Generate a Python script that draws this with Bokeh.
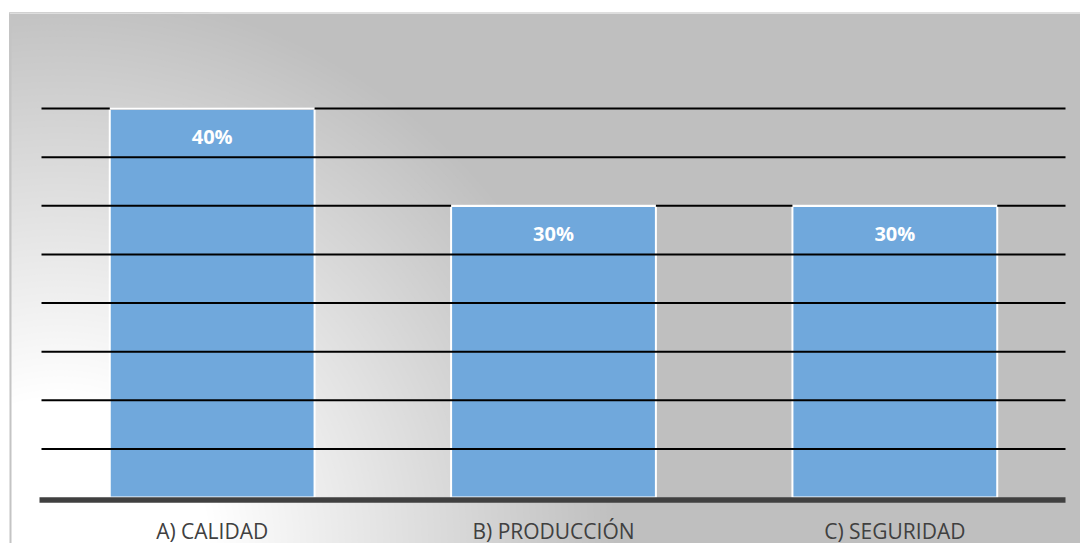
from bokeh.plotting import figure
from bokeh.models import Range1d
from bokeh.core.properties import value
from bokeh.embed import file_html
from bokeh.resources import INLINE

# ---- data ----
categories = ["A) CALIDAD", "B) PRODUCCIÓN", "C) SEGURIDAD"]
shares = [0.40, 0.30, 0.30]
share_labels = ["40%", "30%", "30%"]
grid_levels = [0.05, 0.10, 0.15, 0.20, 0.25, 0.30, 0.35, 0.40]

# ---- layout (pixels) ----
W, H = 1080, 543
left_pad, top_pad = 9, 12
frame_w, frame_h = W - left_pad, H - top_pad
px_per_cat = 1024 / 3.0
cat0_off = 32.0              # px from frame left to first category edge
px_per_unit = 972.5
zero_off = 46.0              # px from frame bottom to value 0

n = len(categories)
x_start = -cat0_off / px_per_cat
x_end = x_start + frame_w / px_per_cat
y_start = -zero_off / px_per_unit
y_end = y_start + frame_h / px_per_unit

p = figure(width=W, height=H, x_range=Range1d(x_start, x_end), y_range=Range1d(y_start, y_end),
           x_axis_type=None, y_axis_type=None, output_backend="svg", toolbar_location=None,
           min_border_left=left_pad, min_border_right=0, min_border_top=top_pad, min_border_bottom=0)
p.background_fill_color = "#bfbfbf"
p.border_fill_color = "white"
p.outline_line_color = None

# ---- radial gradient background (decoration) ----
gx = (60 - 41) / px_per_cat
gy = (497 - 545) / px_per_unit
r0, r1 = 150.0, 560.0
levels = list(range(192, 256))
radii, colors = [], []
for g in levels:
    t = (255 - g) / 64.0
    radii.append(r0 + t * (r1 - r0))
    colors.append("#%02x%02x%02x" % (g, g, g))
p.circle(x=[gx] * len(levels), y=[gy] * len(levels), radius=radii, radius_units="screen",
         fill_color=colors, line_color=None)

# chart-area border (left and top only, the rest is cropped in the reference)
p.segment(x0=[x_start], x1=[x_start], y0=[y_start], y1=[y_end], line_color="#c4c4c4", line_width=4)
p.segment(x0=[x_start], x1=[x_end], y0=[y_end], y1=[y_end], line_color="#dedede", line_width=3)

xs = [i + 0.5 for i in range(n)]
bar_w = 0.6

# bars
p.vbar(x=xs, top=shares, bottom=0, width=bar_w, fill_color="#70a8dc", line_color="white", line_width=2)

# gridlines
p.segment(x0=[0] * len(grid_levels), x1=[n] * len(grid_levels), y0=grid_levels, y1=grid_levels,
          line_color="black", line_width=2)

# white bar tops over gridlines
p.segment(x0=[x - bar_w / 2 for x in xs], x1=[x + bar_w / 2 for x in xs], y0=shares, y1=shares,
          line_color="white", line_width=2.5)

# axis line
ax_y = -2.5 / px_per_unit
p.segment(x0=[-2 / px_per_cat], x1=[n], y0=[ax_y], y1=[ax_y], line_color="#404040", line_width=5.5)

# value labels
p.text(x=xs, y=shares, text=share_labels, y_offset=28, text_align="center", text_baseline="middle",
       text_color="white", text_font=value("Open Sans"), text_font_style="bold", text_font_size="20px")

# category labels
p.text(x=xs, y=[0] * n, text=categories, y_offset=33, text_align="center", text_baseline="middle",
       text_color="#404040", text_font=value("Open Sans"), text_font_size="21px")

open("out.html", "w").write(file_html(p, INLINE))
